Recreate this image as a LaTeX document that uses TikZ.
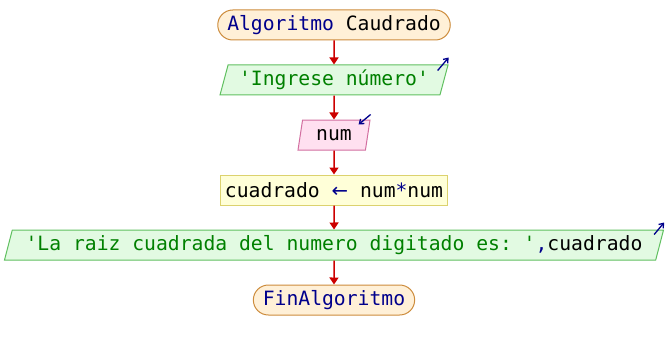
\documentclass[tikz,border=0pt]{standalone}
\usepackage{fontspec}
\setmonofont{DejaVu Sans Mono}
\newfontfamily\flechafont{DejaVu Sans}
\usetikzlibrary{arrows.meta, shapes.geometric}

\definecolor{kwblue}{RGB}{0,0,140}
\definecolor{strgreen}{RGB}{0,128,0}
\definecolor{flowred}{RGB}{204,0,0}
\definecolor{termfill}{RGB}{255,240,215}
\definecolor{termedge}{RGB}{205,140,60}
\definecolor{outfill}{RGB}{226,250,226}
\definecolor{outedge}{RGB}{96,192,96}
\definecolor{infill}{RGB}{255,224,240}
\definecolor{inedge}{RGB}{210,110,160}
\definecolor{procfill}{RGB}{255,255,216}
\definecolor{procedge}{RGB}{220,210,110}

\newcommand{\kw}[1]{\textcolor{kwblue}{#1}}
\newcommand{\cad}[1]{\textcolor{strgreen}{#1}}

\begin{document}
\begin{tikzpicture}[x=1pt, y=-1pt,
      font=\ttfamily\fontsize{19.7}{22}\selectfont,
      terminal/.style={rectangle, rounded corners=15pt, draw=termedge, fill=termfill, line width=1pt, minimum height=30pt, inner xsep=9.5pt, inner ysep=0pt},
      salida/.style={trapezium, trapezium left angle=68, trapezium right angle=112, trapezium stretches body, draw=outedge, fill=outfill, line width=1pt, minimum height=30pt, inner ysep=0pt},
      entrada/.style={salida, draw=inedge, fill=infill},
      proceso/.style={rectangle, draw=procedge, fill=procfill, line width=1pt, minimum height=30pt, inner xsep=4pt, inner ysep=0pt},
      flow/.style={draw=flowred, line width=1.5pt, -{Triangle[width=9pt, length=7pt]}},
      io/.style={draw=kwblue, line width=1.3pt, -{Straight Barb[length=4pt, width=6pt]}}]

      \useasboundingbox (0,0) rectangle (668,350);

      \node[terminal] (inicio) at (334,25) {\kw{Algoritmo} Caudrado};
      \node[salida, minimum width=228pt] (ingrese) at (334,80) {\cad{'Ingrese número'}};
      \node[entrada, minimum width=72pt] (leer) at (334,135) {num};
      \node[proceso] (asigna) at (334,190) {cuadrado \kw{\flechafont ←} num\kw{*}num};
      \node[salida, minimum width=659pt] (mostrar) at (334,245) {\cad{'La raiz cuadrada del numero digitado es: '}\kw{,}cuadrado};
      \node[terminal] (fin) at (334,300) {\kw{FinAlgoritmo}};

      % flechas del flujo
      \draw[flow] (inicio.south) -- (ingrese.north);
      \draw[flow] (ingrese.south) -- (leer.north);
      \draw[flow] (leer.south) -- (asigna.north);
      \draw[flow] (asigna.south) -- (mostrar.north);
      \draw[flow] (mostrar.south) -- (fin.north);

      % marcas de entrada/salida
      \draw[io] ([shift={(-11,6)}]ingrese.top right corner) -- ++(11,-13);
      \draw[io] ([shift={(0,-5)}]leer.top right corner) -- ++(-12,10);
      \draw[io] ([shift={(-10,5)}]mostrar.top right corner) -- ++(10,-12);
\end{tikzpicture}
\end{document}
